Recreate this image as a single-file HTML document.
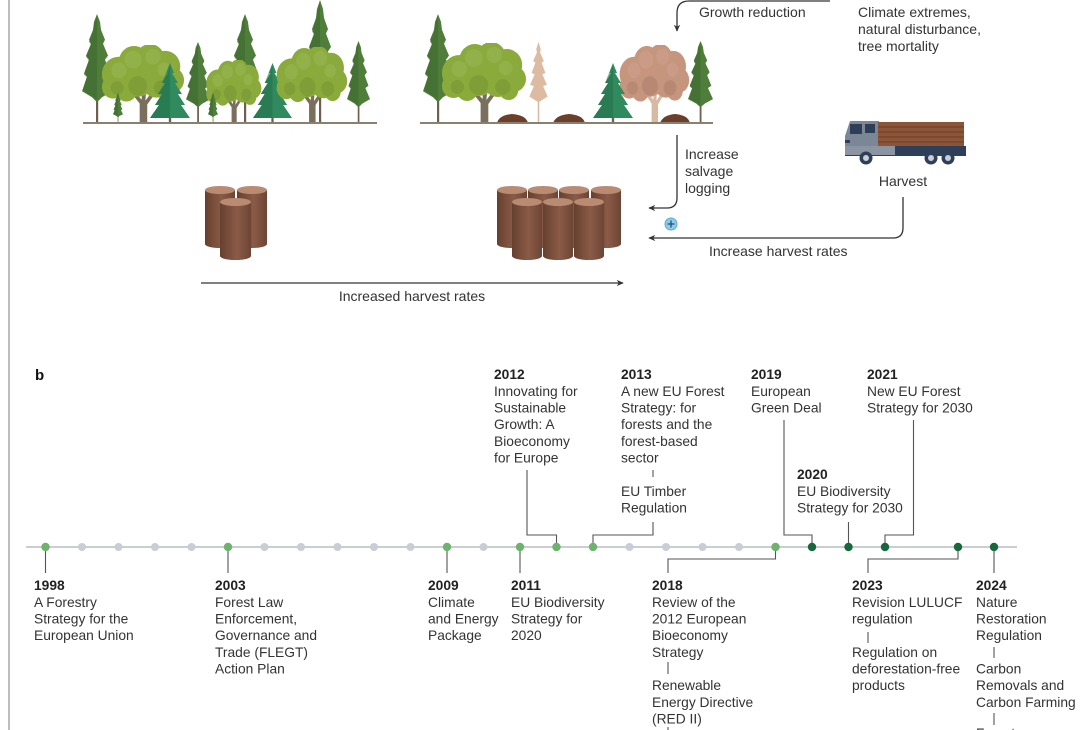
<!DOCTYPE html>
<html><head><meta charset="utf-8"><style>
html,body{margin:0;padding:0;background:#fff;}
body{width:1089px;height:730px;overflow:hidden;position:relative;}
svg{position:absolute;left:0;top:0;}
text{font-family:"Liberation Sans",Arial,sans-serif;font-size:13.8px;fill:#333;}
.t{font-size:14px;}
.y{font-weight:bold;fill:#222;}
</style></head><body>
<svg width="1089" height="730" viewBox="0 0 1089 730" xmlns="http://www.w3.org/2000/svg">
<defs>
<symbol id="conifer" viewBox="0 0 30 110" preserveAspectRatio="none">
<rect x="14" y="18" width="2.2" height="92" fill="#6e604f"/>
<path d="M15 0 L18 8 L19 16 L23 26 L21 30 L26 42 L23 46 L28 60 L24 63 L30 78 L20 84 L16 88 L14 88 L10 84 L0 78 L5 63 L2 60 L7 46 L4 42 L9 30 L7 26 L11 16 L12 8 Z" fill="#4f7d3a"/>
<path d="M15 2 L12 10 L11 18 L7 28 L9 31 L4 43 L7 47 L2 61 L5 64 L1 77 L10 83 L14 86 L15 86 Z" fill="#3f6b30" opacity="0.6"/>
</symbol>
<symbol id="dead" viewBox="0 0 30 110" preserveAspectRatio="none">
<rect x="14" y="18" width="2" height="92" fill="#d8b9a2"/>
<path d="M15 0 L18 10 L17 14 L22 26 L19 28 L24 42 L20 44 L26 58 L21 60 L27 74 L18 80 L15 82 L12 80 L3 74 L9 60 L4 58 L10 44 L6 42 L11 28 L8 26 L13 14 L12 10 Z" fill="#ddbba3"/>
</symbol>
<symbol id="spruce" viewBox="0 0 40 60" preserveAspectRatio="none">
<rect x="18.8" y="52" width="2.4" height="8" fill="#6e604f"/>
<path d="M20 0 L24 10 L22 10 L28 20 L25 20 L32 31 L28 31 L35 42 L31 42 L40 55 L0 55 L9 42 L5 42 L12 31 L8 31 L15 20 L12 20 L18 10 L16 10 Z" fill="#2f8b5d"/>
<path d="M20 2 L18 10 L16 10 L12 20 L15 20 L8 31 L12 31 L5 42 L9 42 L0 55 L20 55 Z" fill="#237049" opacity="0.55"/>
</symbol>
<symbol id="decid" viewBox="0 0 90 80" preserveAspectRatio="none">
<path d="M42 80 L42 60 L33 49 L36 47 L44 56 L45 46 L49 46 L48 57 L56 47 L59 49 L50 61 L50 80 Z" style="fill:var(--trunk)"/>
<g fill="currentColor">
<circle cx="20" cy="30" r="18"/><circle cx="36" cy="17" r="16"/><circle cx="53" cy="14" r="15"/>
<circle cx="69" cy="22" r="16"/><circle cx="76" cy="36" r="13"/><circle cx="60" cy="38" r="16"/>
<circle cx="40" cy="35" r="18"/><circle cx="14" cy="43" r="12"/><circle cx="28" cy="47" r="11"/><circle cx="71" cy="47" r="10"/>
</g>
<g fill="#fff" opacity="0.07"><circle cx="35" cy="15" r="9"/><circle cx="56" cy="12" r="8"/><circle cx="20" cy="26" r="8"/><circle cx="68" cy="25" r="7"/></g>
<g fill="#000" opacity="0.07"><circle cx="40" cy="42" r="10"/><circle cx="65" cy="44" r="8"/><circle cx="18" cy="44" r="7"/></g>
</symbol>
<linearGradient id="lg" x1="0" x2="1" y1="0" y2="0">
<stop offset="0" stop-color="#66402f"/><stop offset="0.55" stop-color="#8a5b47"/><stop offset="1" stop-color="#6d4535"/>
</linearGradient>
<symbol id="log" viewBox="0 0 30 62" preserveAspectRatio="none">
<rect x="0" y="4" width="30" height="54" fill="url(#lg)"/>
<ellipse cx="15" cy="58" rx="15" ry="4" fill="url(#lg)"/>
<ellipse cx="15" cy="4" rx="15" ry="4" fill="#b98b73"/>
</symbol>
<marker id="ah" viewBox="0 0 10 10" refX="9" refY="5" markerWidth="7" markerHeight="7" orient="auto" markerUnits="userSpaceOnUse">
<path d="M0 0.5 L10 5 L0 9.5 L3 5 Z" fill="#333"/>
</marker>
</defs>

<rect x="8" y="0" width="2" height="730" fill="#bdbdbd"/>

<!-- LEFT FOREST -->
<use href="#conifer" x="82" y="14" width="30" height="109"/>
<use href="#conifer" x="230" y="14" width="30" height="109"/>
<use href="#conifer" x="305" y="0" width="30" height="123"/>
<use href="#decid" x="100" y="45" width="85" height="78" style="color:#8aab3c;--trunk:#7a6e5c"/>
<use href="#conifer" x="113" y="93" width="10" height="30"/>
<use href="#spruce" x="150" y="63" width="40" height="60"/>
<use href="#conifer" x="186" y="42" width="24" height="81"/>
<use href="#decid" x="205" y="60" width="57" height="63" style="color:#8aab3c;--trunk:#7a6e5c"/>
<use href="#conifer" x="208" y="93" width="10" height="30"/>
<use href="#spruce" x="253" y="63" width="39" height="60"/>
<use href="#decid" x="275" y="47" width="73" height="76" style="color:#8aab3c;--trunk:#7a6e5c"/>
<use href="#conifer" x="347" y="41" width="23" height="82"/>
<rect x="83" y="122" width="294" height="2" fill="#8a8070"/>

<!-- MIDDLE FOREST -->
<use href="#conifer" x="423" y="14" width="30" height="109"/>
<use href="#decid" x="440" y="43" width="87" height="80" style="color:#8aab3c;--trunk:#7a6e5c"/>
<use href="#dead" x="527" y="42" width="23" height="81"/>
<path d="M497 123 Q499 115 512 114 Q526 115 528 123 Z" fill="#6b3f2a"/>
<path d="M553 123 Q556 115 569 114 Q583 115 585 123 Z" fill="#6b3f2a"/>
<use href="#decid" x="618" y="45" width="72" height="78" style="color:#c6957e;--trunk:#d8b9a2"/>
<use href="#spruce" x="593" y="63" width="40" height="60"/>
<path d="M660 123 Q663 115 675 114 Q688 115 690 123 Z" fill="#6b3f2a"/>
<use href="#conifer" x="688" y="41" width="25" height="82"/>
<rect x="420" y="122" width="293" height="2" fill="#8a8070"/>

<path d="M830 1 L689 1 Q677 1 677 13 L677 31" fill="none" stroke="#333" stroke-width="1.3" marker-end="url(#ah)"/>
<text x="699" y="17" class="t">Growth reduction</text>
<text x="858" y="17" class="t">Climate extremes,</text>
<text x="858" y="34" class="t">natural disturbance,</text>
<text x="858" y="51" class="t">tree mortality</text>

<!-- Truck -->
<path d="M850 121 L879 121 L879 150 L845 150 L845 136 L848 127 Z" fill="#7b8697"/>
<rect x="850" y="124" width="12" height="10" fill="#2e3e57"/>
<rect x="865" y="124" width="10" height="9" fill="#2e3e57"/>
<rect x="845" y="140" width="5" height="3" fill="#2e3e57"/>
<rect x="878" y="122" width="86" height="25" fill="#8c5538"/>
<g stroke="#6a3c27" stroke-width="1"><line x1="878" y1="127" x2="964" y2="127"/><line x1="878" y1="132" x2="964" y2="132"/><line x1="878" y1="137" x2="964" y2="137"/><line x1="878" y1="142" x2="964" y2="142"/></g>
<rect x="845" y="146" width="121" height="10" fill="#2e3f5a"/>
<rect x="845" y="146" width="40" height="9" fill="#8a94a3"/>
<rect x="885" y="146" width="10" height="9" fill="#8a94a3"/>
<g fill="#2e3f5a"><circle cx="866" cy="158" r="6.5"/><circle cx="931" cy="158" r="6.5"/><circle cx="948" cy="158" r="6.5"/></g>
<g fill="#c9ced6"><circle cx="866" cy="158" r="3"/><circle cx="931" cy="158" r="3"/><circle cx="948" cy="158" r="3"/></g>
<text x="903" y="186" text-anchor="middle" class="t">Harvest</text>

<path d="M677 135 L677 198 Q677 208 667 208 L649 208" fill="none" stroke="#333" stroke-width="1.3" marker-end="url(#ah)"/>
<text x="685" y="159" class="t">Increase</text>
<text x="685" y="176" class="t">salvage</text>
<text x="685" y="193" class="t">logging</text>
<path d="M903 197 L903 228 Q903 238 893 238 L649 238" fill="none" stroke="#333" stroke-width="1.3" marker-end="url(#ah)"/>
<text x="709" y="256" class="t">Increase harvest rates</text>
<circle cx="671" cy="224" r="6" fill="#8fcbe8" stroke="#5aa9d3" stroke-width="1"/>
<path d="M671 220.5 V227.5 M667.5 224 H674.5" stroke="#1f4f7a" stroke-width="1.3"/>

<use href="#log" x="205" y="186" width="30" height="62"/>
<use href="#log" x="237" y="186" width="30" height="62"/>
<use href="#log" x="220" y="198" width="31" height="62"/>
<use href="#log" x="497" y="186" width="30" height="62"/>
<use href="#log" x="528" y="186" width="30" height="62"/>
<use href="#log" x="559" y="186" width="30" height="62"/>
<use href="#log" x="591" y="186" width="30" height="62"/>
<use href="#log" x="512" y="198" width="30" height="62"/>
<use href="#log" x="543" y="198" width="30" height="62"/>
<use href="#log" x="574" y="198" width="30" height="62"/>

<path d="M201 283 L623 283" stroke="#333" stroke-width="1.3" marker-end="url(#ah)"/>
<text x="412" y="301" text-anchor="middle" class="t">Increased harvest rates</text>

<text x="35" y="380" style="font-weight:bold;font-size:15px;fill:#111">b</text>

<rect x="26" y="546" width="991" height="2" fill="#c9ced6"/>

<g stroke="#555" stroke-width="1.1" fill="none">
<path d="M45.5 547 V573"/>
<path d="M228 547 V573"/>
<path d="M447 547 V573"/>
<path d="M520 547 V573"/>
<path d="M994 547 V573"/>
<path d="M527 470 V535 H556.5 V547"/>
<path d="M653 522 V535 H593 V547"/>
<path d="M653 470 V477"/>
<path d="M784 420 V535 H812 V547"/>
<path d="M913.5 420 V535 H885 V547"/>
<path d="M848.5 522 V547"/>
<path d="M775.5 547 V559 H668 V573"/>
<path d="M668 662 V674"/>
<path d="M668 727 V730"/>
<path d="M958 547 V559 H868 V573"/>
<path d="M868 632 V643"/>
<path d="M994 647 V658"/>
<path d="M994 713 V725"/>
</g>

<g fill="#c8cdd6">
<circle cx="82" cy="547" r="4"/><circle cx="118.5" cy="547" r="4"/><circle cx="155" cy="547" r="4"/><circle cx="191.5" cy="547" r="4"/>
<circle cx="264.5" cy="547" r="4"/><circle cx="301" cy="547" r="4"/><circle cx="337.5" cy="547" r="4"/><circle cx="374" cy="547" r="4"/><circle cx="410.5" cy="547" r="4"/>
<circle cx="483.5" cy="547" r="4"/>
<circle cx="629.5" cy="547" r="4"/><circle cx="666" cy="547" r="4"/><circle cx="702.5" cy="547" r="4"/><circle cx="739" cy="547" r="4"/>
</g>
<g fill="#6db36d">
<circle cx="45.5" cy="547" r="4.2"/><circle cx="228" cy="547" r="4.2"/><circle cx="447" cy="547" r="4.2"/>
<circle cx="520" cy="547" r="4.2"/><circle cx="556.5" cy="547" r="4.2"/><circle cx="593" cy="547" r="4.2"/><circle cx="775.5" cy="547" r="4.2"/>
</g>
<g fill="#17683a">
<circle cx="812" cy="547" r="4.2"/><circle cx="848.5" cy="547" r="4.2"/><circle cx="885" cy="547" r="4.2"/><circle cx="958" cy="547" r="4.2"/><circle cx="994" cy="547" r="4.2"/>
</g>

<text x="34" y="590" class="y">1998</text>
<text x="34" y="607">A Forestry</text>
<text x="34" y="623.5">Strategy for the</text>
<text x="34" y="640">European Union</text>

<text x="215" y="590" class="y">2003</text>
<text x="215" y="607">Forest Law</text>
<text x="215" y="623.5">Enforcement,</text>
<text x="215" y="640">Governance and</text>
<text x="215" y="657">Trade (FLEGT)</text>
<text x="215" y="673.5">Action Plan</text>

<text x="428" y="590" class="y">2009</text>
<text x="428" y="607">Climate</text>
<text x="428" y="623.5">and Energy</text>
<text x="428" y="640">Package</text>

<text x="511" y="590" class="y">2011</text>
<text x="511" y="607">EU Biodiversity</text>
<text x="511" y="623.5">Strategy for</text>
<text x="511" y="640">2020</text>

<text x="652" y="590" class="y">2018</text>
<text x="652" y="607">Review of the</text>
<text x="652" y="623.5">2012 European</text>
<text x="652" y="640">Bioeconomy</text>
<text x="652" y="657">Strategy</text>
<text x="652" y="690">Renewable</text>
<text x="652" y="707">Energy Directive</text>
<text x="652" y="723.5">(RED II)</text>

<text x="852" y="590" class="y">2023</text>
<text x="852" y="607">Revision LULUCF</text>
<text x="852" y="623.5">regulation</text>
<text x="852" y="657">Regulation on</text>
<text x="852" y="673.5">deforestation-free</text>
<text x="852" y="690">products</text>

<text x="976" y="590" class="y">2024</text>
<text x="976" y="607">Nature</text>
<text x="976" y="623.5">Restoration</text>
<text x="976" y="640">Regulation</text>
<text x="976" y="673.5">Carbon</text>
<text x="976" y="690">Removals and</text>
<text x="976" y="707">Carbon Farming</text>
<text x="976" y="738">Forest</text>

<text x="494" y="379" class="y">2012</text>
<text x="494" y="396">Innovating for</text>
<text x="494" y="412.5">Sustainable</text>
<text x="494" y="429">Growth: A</text>
<text x="494" y="446">Bioeconomy</text>
<text x="494" y="462.5">for Europe</text>

<text x="621" y="379" class="y">2013</text>
<text x="621" y="396">A new EU Forest</text>
<text x="621" y="412.5">Strategy: for</text>
<text x="621" y="429">forests and the</text>
<text x="621" y="446">forest-based</text>
<text x="621" y="462.5">sector</text>
<text x="621" y="496">EU Timber</text>
<text x="621" y="512.5">Regulation</text>

<text x="751" y="379" class="y">2019</text>
<text x="751" y="396">European</text>
<text x="751" y="412.5">Green Deal</text>

<text x="867" y="379" class="y">2021</text>
<text x="867" y="396">New EU Forest</text>
<text x="867" y="412.5">Strategy for 2030</text>

<text x="797" y="479" class="y">2020</text>
<text x="797" y="496">EU Biodiversity</text>
<text x="797" y="512.5">Strategy for 2030</text>
</svg>
</body></html>
